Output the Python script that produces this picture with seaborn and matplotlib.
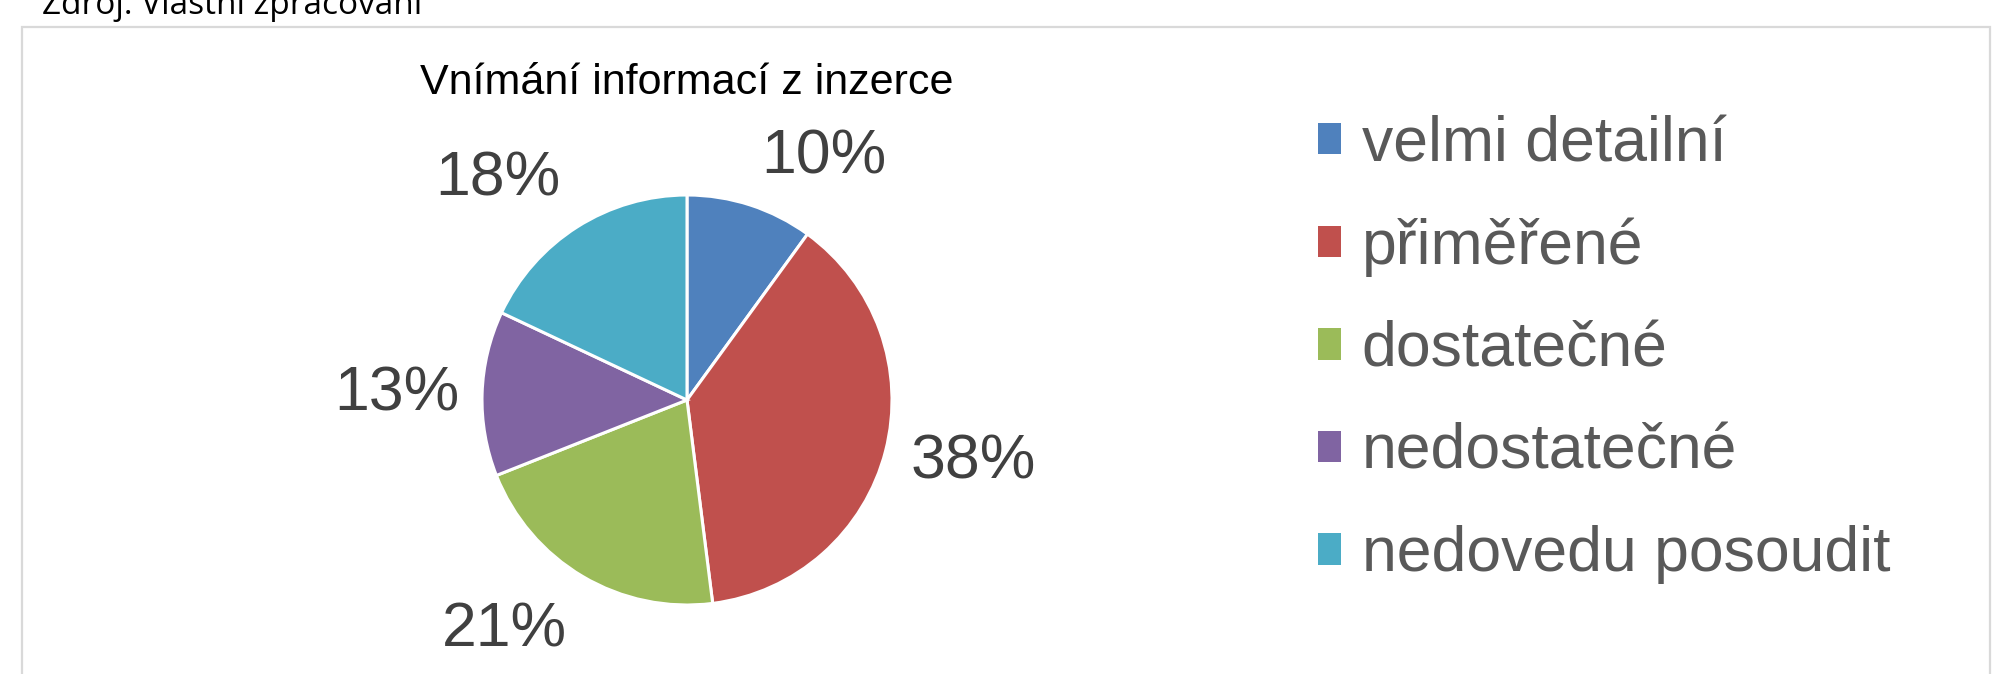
import matplotlib
matplotlib.use("Agg")
import matplotlib.pyplot as plt
import matplotlib.patches as mpatches
import numpy as np
import seaborn as sns

# ---- data ----
categories = ["velmi detailní", "přiměřené", "dostatečné", "nedostatečné", "nedovedu posoudit"]
values = [10, 38, 21, 13, 18]
pct_labels = ["10%", "38%", "21%", "13%", "18%"]
title_text = "Vnímání informací z inzerce"
source_text = "Zdroj: Vlastní zpracování"

# ---- style ----
colors = ["#4F81BD", "#C0504D", "#9BBB59", "#8064A2", "#4BACC6"]
label_dist = [1.36, 1.43, 1.43, 1.415, 1.42]        # radial distance of label centres
label_shift = [-11.4, 2.2, -7.8, 0.6, 8.1]          # angular nudge (deg) of labels

sns.set_theme(style="white")
plt.rcParams["font.family"] = ["Liberation Sans", "DejaVu Sans"]

W, H = 2010, 674
fig = plt.figure(figsize=(W / 100, H / 100), dpi=100)
fig.patch.set_facecolor("white")

# chart area border
fig.add_artist(mpatches.Rectangle((22 / W, -0.1), (1990 - 22) / W, 1 - 27 / H + 0.1,
                                  transform=fig.transFigure, fill=False,
                                  edgecolor="#D9D9D9", linewidth=1.6, clip_on=False))

# source text (clipped at top of image, as in the reference)
fig.text(42 / W, 1 - 14 / H, source_text, fontsize=24, color="#000000",
         ha="left", va="baseline", family=["Open Sans", "DejaVu Sans"])

# pie axes: center (687,400), radius 205 px
cx, cy, r = 687, 400, 205
ax = fig.add_axes([(cx - r) / W, (H - cy - r) / H, 2 * r / W, 2 * r / H])
wedges, _ = ax.pie(values, colors=colors, startangle=90, counterclock=False,
                   radius=1, wedgeprops=dict(edgecolor="white", linewidth=2.2))
ax.set_xlim(-1, 1)
ax.set_ylim(-1, 1)
ax.set_aspect("equal")
ax.axis("off")

for w, lab, d, s in zip(wedges, pct_labels, label_dist, label_shift):
    ang = np.deg2rad((w.theta1 + w.theta2) / 2 + s)
    x, y = d * np.cos(ang), d * np.sin(ang)
    ax.text(x, y, lab, fontsize=45, color="#404040",
            ha="center", va="center", clip_on=False)

# title
fig.text(687 / W, 1 - 94 / H, title_text, fontsize=31, color="#000000",
         ha="center", va="baseline")

# legend
handles = [mpatches.Patch(facecolor=c, edgecolor="none") for c in colors]
fs = 45
leg = fig.legend(handles, categories, loc="upper left",
                 bbox_to_anchor=(1318 / W, 1 - 115 / H), bbox_transform=fig.transFigure,
                 frameon=False, fontsize=fs, borderpad=0, borderaxespad=0,
                 handlelength=0.37, handleheight=0.4, handletextpad=0.33,
                 labelspacing=0.695, labelcolor="#595959")

fig.savefig("out.png", dpi=100, facecolor="white")
